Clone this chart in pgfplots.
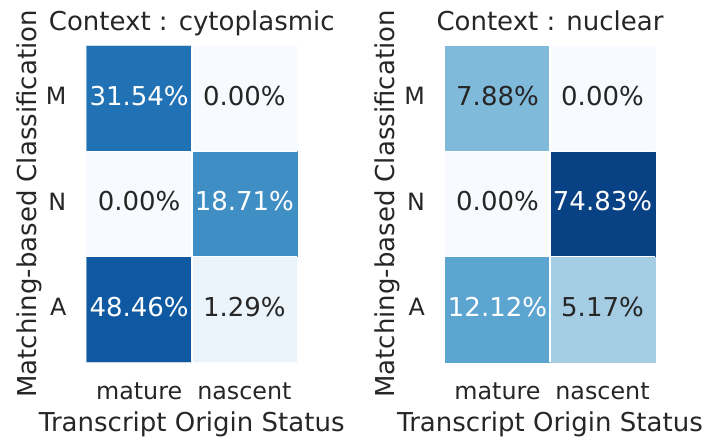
\documentclass[border=0pt]{standalone}
\usepackage{fontspec}
\setmainfont{DejaVu Sans}
\usepackage{pgfplots}
\usepackage{pgfplotstable}
\pgfplotsset{compat=1.18}
\definecolor{fg0}{RGB}{38,38,38}
\pgfplotsset{colormap={blues}{rgb255=(247,251,255) rgb255=(222,235,247) rgb255=(198,219,239) rgb255=(158,202,225) rgb255=(107,174,214) rgb255=(66,146,198) rgb255=(33,113,181) rgb255=(8,81,156) rgb255=(8,48,107)}}

% c = column (0 mature, 1 nascent), r = row (0 A, 1 N, 2 M), v = percent, w = white text
\pgfplotstableread{
c r v w
0 0 48.46 1
1 0 1.29 0
0 1 0.00 0
1 1 18.71 1
0 2 31.54 1
1 2 0.00 0
}\cyto
\pgfplotstableread{
c r v w
0 0 12.12 1
1 0 5.17 0
0 1 0.00 0
1 1 74.83 1
0 2 7.88 0
1 2 0.00 0
}\nuc

\pgfplotsset{
  hm/.style={
    scale only axis, width=210.5bp, height=316bp,
    anchor=south west,
    xmin=-0.5, xmax=1.5, ymin=-0.5, ymax=2.5,
    colormap name=blues, point meta min=0, point meta max=2,
    axis line style={draw=none}, major tick length=0pt, tick style={draw=none},
    xtick={0,1}, xticklabels={mature,nascent},
    ytick={0,1,2}, yticklabels={A,N,M},
    tick label style={font=\fontsize{23.8bp}{28bp}\selectfont},
    xticklabel style={anchor=base, inner sep=0pt, yshift=-37.3bp},
    yticklabel style={anchor=east, inner sep=0pt, xshift=-20bp, yshift=2.5bp},
    title style={at={(axis description cs:0.5,1.0316)}, anchor=base, inner sep=0pt},
    xlabel style={at={(axis description cs:0.5,-0.2184)}, anchor=base, inner sep=0pt},
    ylabel style={at={(axis description cs:-0.2399,0.5)}, anchor=base, inner sep=0pt},
    xlabel={Transcript Origin Status},
    ylabel={Matching-based Classification},
    clip=false,
  },
  lab/.style={only marks, mark=none, point meta=explicit,
    nodes near coords={\pgfmathprintnumber[fixed,fixed zerofill,precision=2,assume math mode=true]{\pgfplotspointmeta}\%},
    nodes near coords align={center},
    every node near coord/.append style={anchor=center, inner sep=0pt, text=#1, yshift=2.5bp}},
}

\begin{document}
\begin{tikzpicture}[font=\fontsize{26bp}{31bp}\selectfont, text=fg0]
\path[use as bounding box] (0,0) rectangle (706bp,439bp);
\begin{axis}[hm, at={(86.5bp,77bp)}, title={Context : cytoplasmic}]
\addplot[matrix plot*, mesh/cols=2, point meta=explicit] table[x=c, y=r, meta expr={ln(max(\thisrow{v},1))/ln(10)}] {\cyto};
\draw[white, line width=1.6bp] (axis cs:0.5,-0.5) -- (axis cs:0.5,2.5);
\draw[white, line width=1.6bp] (axis cs:-0.5,0.5) -- (axis cs:1.5,0.5);
\draw[white, line width=1.6bp] (axis cs:-0.5,1.5) -- (axis cs:1.5,1.5);
\addplot[lab=white, restrict expr to domain={\thisrow{w}}{0.5:1.5}] table[x=c, y=r, meta=v] {\cyto};
\addplot[lab=fg0, restrict expr to domain={\thisrow{w}}{-0.5:0.5}] table[x=c, y=r, meta=v] {\cyto};
\end{axis}
\begin{axis}[hm, at={(445bp,77bp)}, width=210bp, title={Context : nuclear}]
\addplot[matrix plot*, mesh/cols=2, point meta=explicit] table[x=c, y=r, meta expr={ln(max(\thisrow{v},1))/ln(10)}] {\nuc};
\draw[white, line width=1.6bp] (axis cs:0.5,-0.5) -- (axis cs:0.5,2.5);
\draw[white, line width=1.6bp] (axis cs:-0.5,0.5) -- (axis cs:1.5,0.5);
\draw[white, line width=1.6bp] (axis cs:-0.5,1.5) -- (axis cs:1.5,1.5);
\addplot[lab=white, restrict expr to domain={\thisrow{w}}{0.5:1.5}] table[x=c, y=r, meta=v] {\nuc};
\addplot[lab=fg0, restrict expr to domain={\thisrow{w}}{-0.5:0.5}] table[x=c, y=r, meta=v] {\nuc};
\end{axis}
\end{tikzpicture}
\end{document}
